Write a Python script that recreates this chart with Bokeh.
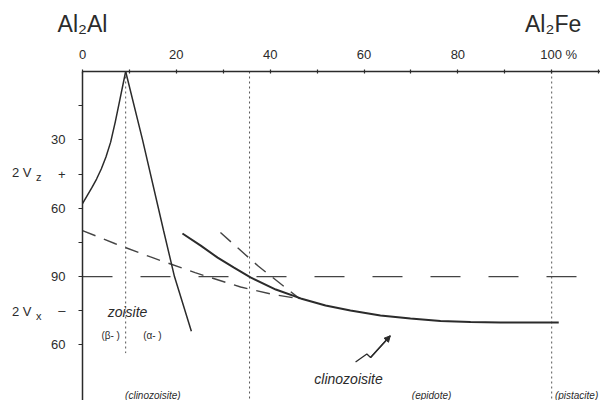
from bokeh.plotting import figure
from bokeh.models import Label, Arrow, NormalHead, FixedTicker, Range1d, LinearAxis
from bokeh.embed import file_html
from bokeh.resources import INLINE

FONT = "Liberation Sans"
INK = "#2b2b2b"

# ---- axis ticks and labels ----
x_tick_marks = [0, 10, 20, 30, 40, 50, 60, 70, 80, 90, 100, 110]
x_label_pos = [0, 20, 40, 60, 80, 101.5]
x_label_txt = ["0", "20", "40", "60", "80", "100 %"]
end_member_pos = [0, 100.3]
end_member_txt = ["Al\u2082Al", "Al\u2082Fe"]
y_major = [30, 45, 60, 90, 105, 120]
y_major_txt = ["30", "+", "60", "90", "\u2013", "60"]
y_minor = [15, 75]
sign_pos = [44.3, 105.2]
sign_txt = ["2 V", "2 V"]
sub_pos = [46.2, 107.2]
sub_txt = ["z", "x"]

# ---- curves (x = % Al2Fe, v = optic angle scale: 2Vz from top, 2Vx below 90) ----
beta_x = [0, 1, 2, 3, 4, 5, 6, 7, 8, 9.2]
beta_v = [58, 54.5, 51, 47.2, 42.8, 37.5, 31, 22, 12, 0]
alpha_x = [9.2, 12.8, 17.3, 19.6, 23.2]
alpha_v = [0, 30, 70, 90, 114]
clino_x = [21.3, 25.2, 28.8, 32.2, 35.8, 41.2, 46.5, 51.8, 57.1, 63.5, 69.9, 76.3, 82.7, 89.1, 101.5]
clino_v = [71.1, 76.4, 81.7, 86.0, 90.4, 95.7, 99.6, 102.7, 104.9, 107.1, 108.4, 109.5, 110.0, 110.2, 110.2]
dash_a_x = [0, 7, 14.5, 24.0, 33.7, 40, 46.3]
dash_a_v = [69.8, 75.6, 81.4, 88.3, 94.6, 97.6, 99.8]
dash_b_x = [29.4, 37.5, 46.3]
dash_b_v = [70.7, 85.5, 99.8]
ninety_x = [0, 110]
ninety_v = [90, 90]
divider_x = [9.2, 35.6, 100]
divider_top = [0, 0, 0]
divider_bottom = [123.6, 145, 145]
bolt_x = [58.2, 60.6, 61.4, 65.6]
bolt_v = [127.5, 124.0, 125.5, 116.0]

p = figure(width=600, height=400, output_backend="svg", toolbar_location=None,
           x_range=Range1d(0, 110.4), y_range=Range1d(144.4, 0),
           x_axis_location="above", min_border_left=82, min_border_top=71,
           min_border_right=0, min_border_bottom=0)
p.outline_line_color = None
p.grid.visible = False
p.background_fill_color = "white"
p.border_fill_color = "white"


def plain_axis(ax, size, standoff):
    ax.axis_line_color = None
    ax.major_tick_line_color = None
    ax.minor_tick_line_color = None
    ax.major_tick_in = 0
    ax.major_tick_out = 0
    ax.minor_tick_in = 0
    ax.minor_tick_out = 0
    ax.major_label_standoff = standoff
    ax.major_label_text_font = FONT
    ax.major_label_text_font_size = size
    ax.major_label_text_color = INK


# top axis: line + tick marks only
xa = p.xaxis[0]
xa.ticker = FixedTicker(ticks=[], minor_ticks=x_tick_marks)
xa.axis_line_color = INK
xa.axis_line_width = 1.5
xa.minor_tick_in = 2
xa.minor_tick_out = 2
xa.minor_tick_line_color = INK
xa.minor_tick_line_width = 1.2

# top tick labels
xl = LinearAxis(ticker=FixedTicker(ticks=x_label_pos),
                major_label_overrides=dict(zip(x_label_pos, x_label_txt)))
plain_axis(xl, "13px", 8)
p.add_layout(xl, "above")

# end-member names
xt = LinearAxis(ticker=FixedTicker(ticks=end_member_pos),
                major_label_overrides=dict(zip(end_member_pos, end_member_txt)))
plain_axis(xt, "23px", 7)
p.add_layout(xt, "above")

# left axis
ya = p.yaxis[0]
ya.ticker = FixedTicker(ticks=y_major, minor_ticks=y_minor)
ya.major_label_overrides = dict(zip(y_major, y_major_txt))
ya.axis_line_color = INK
ya.axis_line_width = 1.5
ya.major_tick_in = 0
ya.major_tick_out = 4
ya.minor_tick_in = 0
ya.minor_tick_out = 4
ya.major_tick_line_color = INK
ya.minor_tick_line_color = INK
ya.major_label_standoff = 13
ya.major_label_text_font = FONT
ya.major_label_text_font_size = "13px"
ya.major_label_text_color = INK

ys = LinearAxis(ticker=FixedTicker(ticks=sub_pos),
                major_label_overrides=dict(zip(sub_pos, sub_txt)))
plain_axis(ys, "11px", 7)
p.add_layout(ys, "left")

yv = LinearAxis(ticker=FixedTicker(ticks=sign_pos),
                major_label_overrides=dict(zip(sign_pos, sign_txt)))
plain_axis(yv, "13px", 1)
p.add_layout(yv, "left")

# dotted dividers
p.segment(x0=divider_x, y0=divider_top, x1=divider_x, y1=divider_bottom,
          line_color="#555555", line_width=1, line_dash="2 3")
# 90 degree line
p.line(ninety_x, ninety_v, line_color="#444444", line_width=1.3, line_dash="30 28")
# dashed curves
p.line(dash_a_x, dash_a_v, line_color="#444444", line_width=1.4, line_dash="14 9")
p.line(dash_b_x, dash_b_v, line_color="#444444", line_width=1.4, line_dash="14 9")
# solid curves
p.line(beta_x, beta_v, line_color=INK, line_width=1.5)
p.line(alpha_x, alpha_v, line_color=INK, line_width=1.5)
p.line(clino_x, clino_v, line_color=INK, line_width=2)
# lightning arrow
p.line(bolt_x, bolt_v, line_color=INK, line_width=1.3)
p.add_layout(Arrow(end=NormalHead(size=6, fill_color=INK, line_color=INK),
                   x_start=bolt_x[-2], y_start=bolt_v[-2], x_end=bolt_x[-1], y_end=bolt_v[-1],
                   line_color=INK, line_width=1.3))


def lab(x, y, t, size, style="normal", align="center"):
    p.add_layout(Label(x=x, y=y, text=t, text_font=FONT, text_font_size=size,
                       text_font_style=style, text_color=INK, text_align=align,
                       text_baseline="middle"))


lab(9.6, 105.4, "zoisite", "14px", "italic")
lab(6.0, 116.0, "(\u03b2- )", "10px")
lab(14.9, 116.0, "(\u03b1- )", "10px")
lab(15.0, 142.0, "(clinozoisite)", "10px", "italic")
lab(56.7, 134.8, "clinozoisite", "14px", "italic")
lab(74.4, 142.0, "(epidote)", "10px", "italic")
lab(105.3, 142.0, "(pistacite)", "10px", "italic")

open("out.html", "w").write(file_html(p, INLINE))
